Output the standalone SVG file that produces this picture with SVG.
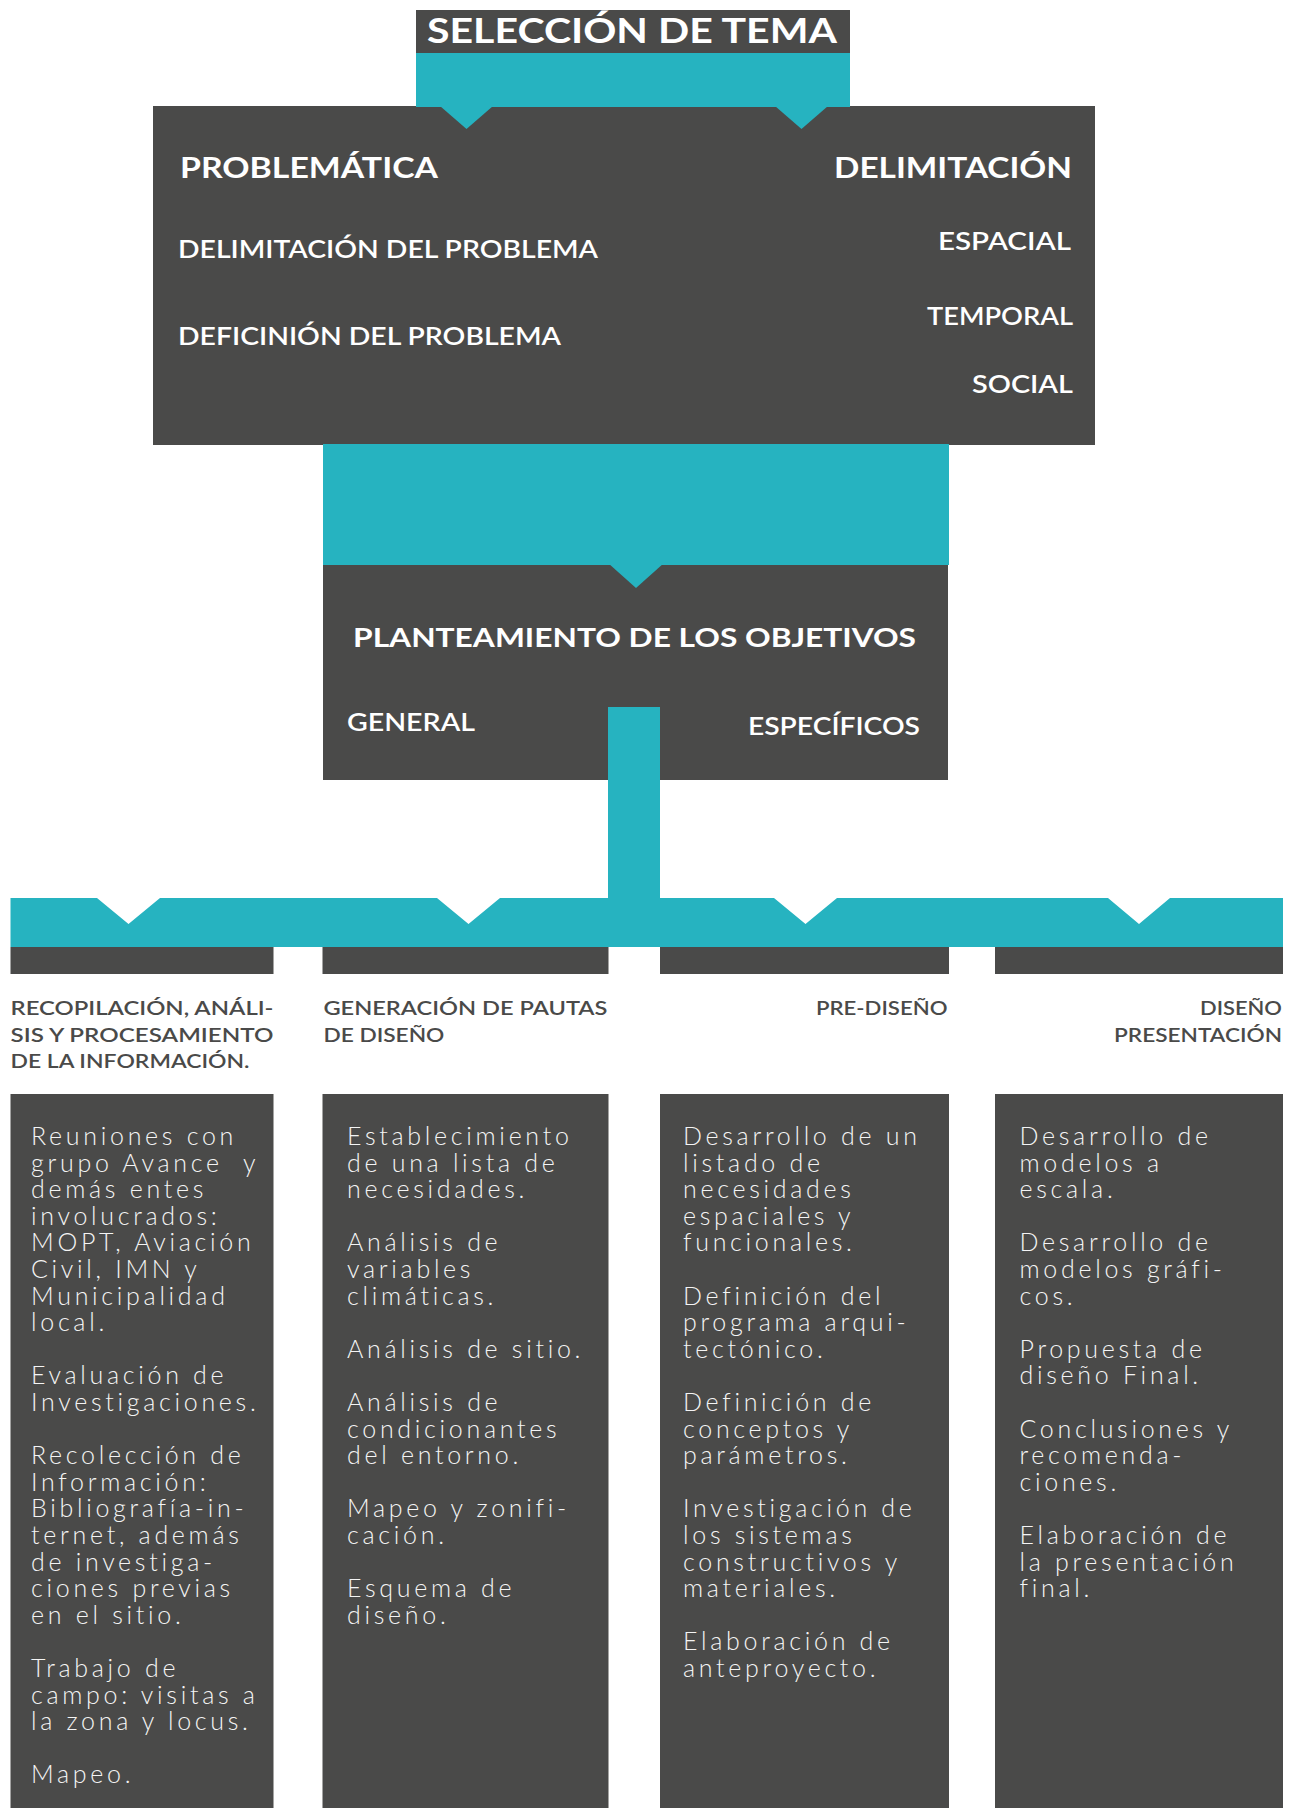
<svg xmlns="http://www.w3.org/2000/svg" width="1293" height="1808" viewBox="0 0 1293 1808">
<style>
.g{fill:#4a4a49}
.t{fill:#26b3c0}
.w{fill:#ffffff}
.hb{font-family:Lato,"Liberation Sans",sans-serif;font-weight:700;fill:#ffffff}
.hm{font-family:Lato,"Liberation Sans",sans-serif;font-weight:600;fill:#ffffff}
.hd{font-family:Lato,"Liberation Sans",sans-serif;font-weight:600;fill:#4a4a49;font-size:20px}
.b{font-family:Lato,"Liberation Sans",sans-serif;font-weight:300;fill:#f4f4f4;font-size:25px;letter-spacing:3.7px}
</style>
<rect width="1293" height="1808" fill="#ffffff"/>

<g id="seleccion-tema">
<rect class="g" x="416" y="10" width="434" height="44"/>
<text class="hb" x="427" y="43" font-size="34" textLength="410" lengthAdjust="spacingAndGlyphs">SELECCIÓN DE TEMA</text>
</g>

<g id="problematica-delimitacion">
<rect class="g" x="153" y="106" width="942" height="339"/>
<text class="hb" x="180" y="178" font-size="29" textLength="258" lengthAdjust="spacingAndGlyphs">PROBLEMÁTICA</text>
<text class="hb" x="834" y="178" font-size="29" textLength="238" lengthAdjust="spacingAndGlyphs">DELIMITACIÓN</text>
<text class="hm" x="178" y="258" font-size="24" textLength="420" lengthAdjust="spacingAndGlyphs">DELIMITACIÓN DEL PROBLEMA</text>
<text class="hm" x="178" y="345" font-size="24" textLength="383" lengthAdjust="spacingAndGlyphs">DEFICINIÓN DEL PROBLEMA</text>
<text class="hm" x="938" y="250" font-size="24" textLength="133" lengthAdjust="spacingAndGlyphs">ESPACIAL</text>
<text class="hm" x="927" y="325" font-size="24" textLength="146" lengthAdjust="spacingAndGlyphs">TEMPORAL</text>
<text class="hm" x="972" y="393" font-size="24" textLength="101" lengthAdjust="spacingAndGlyphs">SOCIAL</text>
</g>

<g id="planteamiento-objetivos">
<rect class="g" x="323" y="564" width="625" height="216"/>
<text class="hb" x="353" y="647" font-size="27" textLength="563" lengthAdjust="spacingAndGlyphs">PLANTEAMIENTO DE LOS OBJETIVOS</text>
<text class="hm" x="347" y="731" font-size="24" textLength="128" lengthAdjust="spacingAndGlyphs">GENERAL</text>
<text class="hm" x="748" y="735" font-size="24" textLength="172" lengthAdjust="spacingAndGlyphs">ESPECÍFICOS</text>
</g>

<g id="connectors">
<rect class="t" x="416" y="53" width="434" height="54"/>
<polygon class="t" points="440,106 493,106 466.5,129"/>
<polygon class="t" points="775,106 828,106 801.5,129"/>
<rect class="t" x="323" y="444" width="626" height="121"/>
<polygon class="t" points="608,563 664,563 636,588"/>
<path class="t" d="M10.5,898 H97 L128.5,924 L160,898 H437 L468.5,924 L500,898 H608 V707 H660 V898 H774 L805.5,924 L837,898 H1108 L1139,924 L1170,898 H1283 V947 H10.5 Z"/>
</g>

<g id="recopilacion">
<rect class="g" x="10.5" y="947" width="263" height="27"/>
<text class="hd" x="10.5" y="1015" textLength="263" lengthAdjust="spacingAndGlyphs">RECOPILACIÓN, ANÁLI-</text>
<text class="hd" x="10.5" y="1041.7" textLength="263" lengthAdjust="spacingAndGlyphs">SIS Y PROCESAMIENTO</text>
<text class="hd" x="10.5" y="1067.7" textLength="239" lengthAdjust="spacingAndGlyphs">DE LA INFORMACIÓN.</text>
<rect class="g" x="10.5" y="1094" width="263" height="714"/>
<text class="b">
<tspan x="31" y="1145">Reuniones con</tspan>
<tspan x="31" y="1171.6">grupo Avance&#160; y</tspan>
<tspan x="31" y="1198.2">demás entes</tspan>
<tspan x="31" y="1224.8">involucrados:</tspan>
<tspan x="31" y="1251.4">MOPT, Aviación</tspan>
<tspan x="31" y="1278">Civil, IMN y</tspan>
<tspan x="31" y="1304.6">Municipalidad</tspan>
<tspan x="31" y="1331.2">local.</tspan>
<tspan x="31" y="1384.4">Evaluación de</tspan>
<tspan x="31" y="1411">Investigaciones.</tspan>
<tspan x="31" y="1464.2">Recolección de</tspan>
<tspan x="31" y="1490.8">Información:</tspan>
<tspan x="31" y="1517.4">Bibliografía-in-</tspan>
<tspan x="31" y="1544">ternet, además</tspan>
<tspan x="31" y="1570.6">de investiga-</tspan>
<tspan x="31" y="1597.2">ciones previas</tspan>
<tspan x="31" y="1623.8">en el sitio.</tspan>
<tspan x="31" y="1677">Trabajo de</tspan>
<tspan x="31" y="1703.6">campo: visitas a</tspan>
<tspan x="31" y="1730.2">la zona y locus.</tspan>
<tspan x="31" y="1783.4">Mapeo.</tspan>
</text>
</g>

<g id="pautas-diseno">
<rect class="g" x="322.5" y="947" width="286" height="27"/>
<text class="hd" x="323.4" y="1015" textLength="284" lengthAdjust="spacingAndGlyphs">GENERACIÓN DE PAUTAS</text>
<text class="hd" x="323.4" y="1041.7" textLength="121" lengthAdjust="spacingAndGlyphs">DE DISEÑO</text>
<rect class="g" x="322.5" y="1094" width="286" height="714"/>
<text class="b">
<tspan x="347" y="1145">Establecimiento</tspan>
<tspan x="347" y="1171.6">de una lista de</tspan>
<tspan x="347" y="1198.2">necesidades.</tspan>
<tspan x="347" y="1251.4">Análisis de</tspan>
<tspan x="347" y="1278">variables</tspan>
<tspan x="347" y="1304.6">climáticas.</tspan>
<tspan x="347" y="1357.8">Análisis de sitio.</tspan>
<tspan x="347" y="1411">Análisis de</tspan>
<tspan x="347" y="1437.6">condicionantes</tspan>
<tspan x="347" y="1464.2">del entorno.</tspan>
<tspan x="347" y="1517.4">Mapeo y zonifi-</tspan>
<tspan x="347" y="1544">cación.</tspan>
<tspan x="347" y="1597.2">Esquema de</tspan>
<tspan x="347" y="1623.8">diseño.</tspan>
</text>
</g>

<g id="pre-diseno">
<rect class="g" x="660" y="947" width="289" height="27"/>
<text class="hd" x="816" y="1015" textLength="131.5" lengthAdjust="spacingAndGlyphs">PRE-DISEÑO</text>
<rect class="g" x="660" y="1094" width="289" height="714"/>
<text class="b">
<tspan x="683" y="1145">Desarrollo de un</tspan>
<tspan x="683" y="1171.6">listado de</tspan>
<tspan x="683" y="1198.2">necesidades</tspan>
<tspan x="683" y="1224.8">espaciales y</tspan>
<tspan x="683" y="1251.4">funcionales.</tspan>
<tspan x="683" y="1304.6">Definición del</tspan>
<tspan x="683" y="1331.2">programa arqui-</tspan>
<tspan x="683" y="1357.8">tectónico.</tspan>
<tspan x="683" y="1411">Definición de</tspan>
<tspan x="683" y="1437.6">conceptos y</tspan>
<tspan x="683" y="1464.2">parámetros.</tspan>
<tspan x="683" y="1517.4">Investigación de</tspan>
<tspan x="683" y="1544">los sistemas</tspan>
<tspan x="683" y="1570.6">constructivos y</tspan>
<tspan x="683" y="1597.2">materiales.</tspan>
<tspan x="683" y="1650.4">Elaboración de</tspan>
<tspan x="683" y="1677">anteproyecto.</tspan>
</text>
</g>

<g id="diseno-presentacion">
<rect class="g" x="995" y="947" width="288" height="27"/>
<text class="hd" x="1200" y="1015" textLength="82" lengthAdjust="spacingAndGlyphs">DISEÑO</text>
<text class="hd" x="1114" y="1041.7" textLength="168" lengthAdjust="spacingAndGlyphs">PRESENTACIÓN</text>
<rect class="g" x="995" y="1094" width="288" height="714"/>
<text class="b">
<tspan x="1019.5" y="1145">Desarrollo de</tspan>
<tspan x="1019.5" y="1171.6">modelos a</tspan>
<tspan x="1019.5" y="1198.2">escala.</tspan>
<tspan x="1019.5" y="1251.4">Desarrollo de</tspan>
<tspan x="1019.5" y="1278">modelos gráfi-</tspan>
<tspan x="1019.5" y="1304.6">cos.</tspan>
<tspan x="1019.5" y="1357.8">Propuesta de</tspan>
<tspan x="1019.5" y="1384.4">diseño Final.</tspan>
<tspan x="1019.5" y="1437.6">Conclusiones y</tspan>
<tspan x="1019.5" y="1464.2">recomenda-</tspan>
<tspan x="1019.5" y="1490.8">ciones.</tspan>
<tspan x="1019.5" y="1544">Elaboración de</tspan>
<tspan x="1019.5" y="1570.6">la presentación</tspan>
<tspan x="1019.5" y="1597.2">final.</tspan>
</text>
</g>
</svg>
